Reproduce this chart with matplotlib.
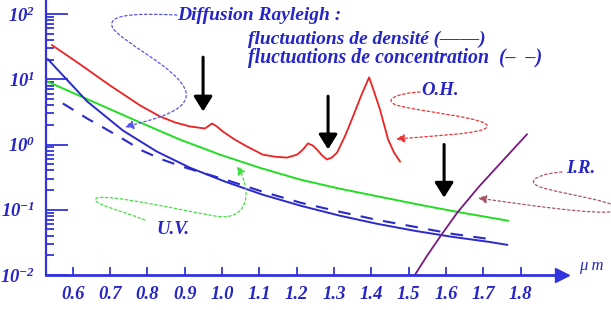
import matplotlib
matplotlib.use("Agg")
import matplotlib.pyplot as plt
from matplotlib.path import Path
from matplotlib.patches import FancyArrowPatch
from matplotlib.ticker import NullFormatter

# attenuation vs wavelength (um), log scale
red_x = [0.544, 0.619, 0.699, 0.780, 0.833, 0.874, 0.914, 0.954, 0.973, 0.986, 1.002,
         1.034, 1.067, 1.109, 1.142, 1.174, 1.201, 1.217, 1.230, 1.243, 1.254, 1.268,
         1.281, 1.294, 1.308, 1.329, 1.351, 1.372, 1.394, 1.407, 1.423, 1.445, 1.461, 1.477]
red_y = [33.4, 17.0, 8.08, 3.98, 2.70, 2.18, 1.89, 1.76, 2.10, 1.89, 1.58,
         1.19, 0.93, 0.70, 0.65, 0.63, 0.70, 0.84, 1.04, 0.965, 0.84, 0.68,
         0.59, 0.63, 0.75, 1.33, 2.70, 5.48, 10.7, 6.54, 3.46, 1.19, 0.75, 0.548]

green_x = [0.530, 0.627, 0.780, 0.887, 0.994, 1.101, 1.209, 1.316, 1.423, 1.530, 1.629, 1.766]
green_y = [9.3, 5.3, 2.18, 1.19, 0.70, 0.44, 0.29, 0.21, 0.158, 0.119, 0.093, 0.068]

blue_x = [0.533, 0.638, 0.734, 0.825, 0.914, 1.008, 1.109, 1.211, 1.316, 1.415, 1.517,
          1.616, 1.715, 1.764]
blue_y = [20.3, 4.59, 1.64, 0.78, 0.44, 0.27, 0.170, 0.115, 0.081, 0.061, 0.0475,
          0.0385, 0.0322, 0.029]

dash_x = [0.573, 0.638, 0.686, 0.737, 0.785, 0.839, 0.892, 1.008, 1.109, 1.211, 1.316,
          1.415, 1.517, 1.616, 1.713]
dash_y = [4.27, 2.51, 1.76, 1.19, 0.81, 0.59, 0.46, 0.29, 0.189, 0.128, 0.093,
          0.070, 0.0547, 0.0428, 0.0358]

ir_x = [1.517, 1.549, 1.584, 1.630, 1.686, 1.745, 1.817]
ir_y = [0.0101, 0.0196, 0.0384, 0.0899, 0.218, 0.51, 1.43]

# absorption markers (black arrows)
arrow_x = [0.949, 1.284, 1.595]
arrow_top = [21.8, 5.5, 1.0]
arrow_tip = [3.2, 0.84, 0.153]

xticks = [0.6, 0.7, 0.8, 0.9, 1.0, 1.1, 1.2, 1.3, 1.4, 1.5, 1.6, 1.7, 1.8]
xlabels = ["0.6", "0.7", "0.8", "0.9", "1.0", "1.1", "1.2", "1.3", "1.4", "1.5", "1.6", "1.7", "1.8"]
yticks = [0.01, 0.1, 1, 10, 100]
ylabels = [r"$10^{-2}$", r"$10^{-1}$", r"$10^{0}$", r"$10^{1}$", r"$10^{2}$"]

W, H = 611, 310
AXIS = "#3333dd"
TXT = "#2525c8"
SERIF = "Liberation Serif"

plt.rcParams["mathtext.fontset"] = "custom"
plt.rcParams["mathtext.rm"] = "Liberation Serif:bold:italic"
plt.rcParams["mathtext.it"] = "Liberation Serif:bold:italic"
plt.rcParams["mathtext.bf"] = "Liberation Serif:bold:italic"


def fp(px, py):
    # pixel position -> figure fraction
    return px / W, 1 - py / H


fig = plt.figure(figsize=(W / 100, H / 100), dpi=100)
ax = fig.add_axes([46 / W, 1 - 275 / H, (562 - 46) / W, 275 / H])
ax.set_yscale("log")
ax.set_xlim(0.528, 1.911)
ax.set_ylim(0.01, 164)

ax.plot(red_x, red_y, color="#ee2222", lw=1.3)
ax.plot(green_x, green_y, color="#22dd22", lw=1.4)
ax.plot(blue_x, blue_y, color="#2a2acc", lw=1.4)
ax.plot(dash_x, dash_y, color="#2a2acc", lw=1.5, dashes=(6, 5))
ax.plot(ir_x, ir_y, color="#7a1a80", lw=1.3)

for x, y0, y1 in zip(arrow_x, arrow_top, arrow_tip):
    ax.annotate("", xy=(x, y1), xytext=(x, y0),
                arrowprops=dict(arrowstyle="-|>,head_length=0.45,head_width=0.28",
                                mutation_scale=20, lw=2.2, color="black",
                                shrinkA=0, shrinkB=0))

# axes styling
for s in ("top", "right"):
    ax.spines[s].set_visible(False)
ax.spines["left"].set_color(AXIS)
ax.spines["left"].set_linewidth(1.6)
ax.spines["bottom"].set_color(AXIS)
ax.spines["bottom"].set_linewidth(2)
ax.plot([1], [0], marker=">", ms=10, color=AXIS, transform=ax.transAxes, clip_on=False)

ax.set_xticks(xticks)
ax.set_xticklabels(xlabels, family=SERIF, weight="bold", style="italic", color=TXT, fontsize=13.5)
ax.set_yticks(yticks)
ax.set_yticklabels(ylabels, color=TXT, fontsize=13.5)
ax.yaxis.set_minor_formatter(NullFormatter())
ax.tick_params(axis="x", direction="in", length=6, width=1.3, color=AXIS, pad=8)
ax.tick_params(axis="y", which="major", direction="in", length=16, width=1.3, color=AXIS, pad=8)
ax.tick_params(axis="y", which="minor", direction="in", length=6, width=1.3, color=AXIS)

# texts
tk = dict(family=SERIF, weight="bold", style="italic", color=TXT, va="center", ha="left")
fig.text(*fp(177, 16), "Diffusion Rayleigh :", fontsize=14, **tk)
fig.text(*fp(248, 39), "fluctuations de densité (——)", fontsize=14, **tk)
fig.text(*fp(248, 58), "fluctuations de concentration  (–  –)", fontsize=14.3, **tk)
fig.text(*fp(421, 91), "O.H.", fontsize=13.5, **tk)
fig.text(*fp(566, 168), "I.R.", fontsize=13.5, **tk)
fig.text(*fp(156, 229), "U.V.", fontsize=13.5, **tk)
fig.text(*fp(579, 266), "μ m", fontsize=12, family=SERIF, style="italic", color=TXT,
         va="center", ha="left")

# dotted callout loops
M, C = Path.MOVETO, Path.CURVE4


def loop(pts, color):
    codes = [M] + [C] * (len(pts) - 1)
    path = Path([fp(*p) for p in pts], codes)
    fig.patches.append(FancyArrowPatch(path=path, transform=fig.transFigure,
                                       arrowstyle="-|>,head_length=5,head_width=2.5",
                                       color=color, lw=0.9, linestyle=(0, (2, 2))))


loop([(177, 15), (150, 14), (108, 12), (112, 26),
      (116, 40), (180, 68), (186, 92),
      (190, 112), (150, 120), (125, 127)], "#5555ee")
loop([(420, 92), (400, 93), (382, 99), (396, 105),
      (420, 112), (492, 118), (487, 127),
      (483, 134), (430, 136), (396, 139)], "#ee3333")
loop([(562, 172), (545, 173), (522, 180), (540, 187),
      (565, 195), (630, 203), (615, 211),
      (600, 216), (520, 204), (478, 198)], "#aa5566")
loop([(145, 220), (120, 210), (88, 203), (97, 198),
      (110, 194), (180, 210), (215, 216),
      (250, 222), (252, 190), (237, 166)], "#44dd44")

fig.savefig("out.png", dpi=100)
